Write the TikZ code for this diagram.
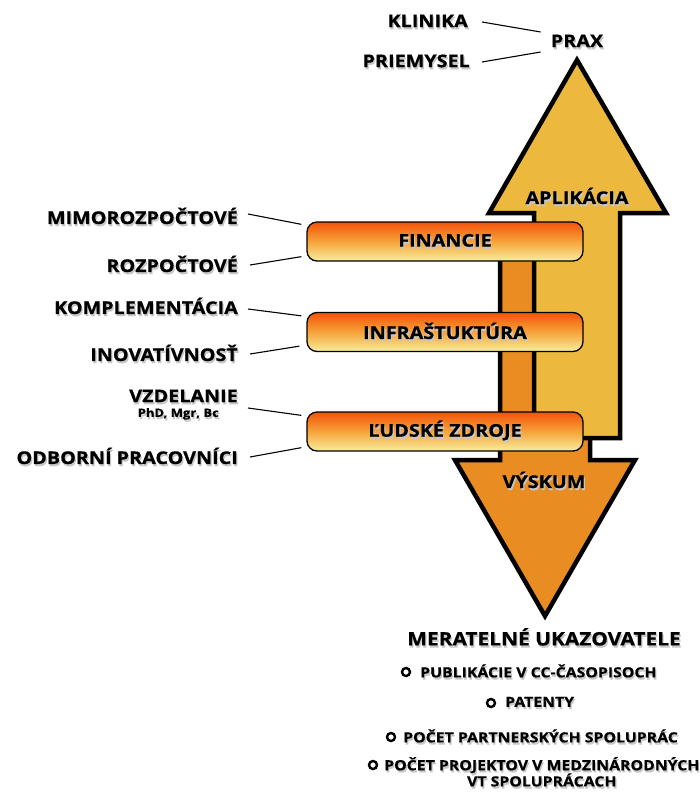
\documentclass[tikz,border=0pt]{standalone}
\usepackage{fontspec}
\setmainfont{Open Sans}[BoldFeatures={FakeStretch=1.13,FakeBold=0.6}]
\usetikzlibrary{calc}
\definecolor{upc}{HTML}{EDB83E}
\definecolor{dnc}{HTML}{E98C22}
\definecolor{btop}{HTML}{F2540A}
\definecolor{bmid}{HTML}{F7A33A}
\definecolor{bbot}{HTML}{F7EE9E}
\newcommand\shd[1]{\leavevmode\rlap{\raisebox{-2.2pt}{\kern1.2pt\textcolor{black!22}{#1}}}#1}
\begin{document}
\begin{tikzpicture}[x=1pt,y=-1pt,
  lbl/.style={font=\bfseries\fontsize{17.5}{20}\selectfont, inner sep=0pt},
  boxn/.style={draw=black, line width=1.3pt, rounded corners=10pt, top color=btop, bottom color=bbot, middle color=bmid, minimum width=276pt, minimum height=39pt, font=\bfseries\fontsize{17.5}{20}\selectfont, inner sep=0pt},
  arr/.style={draw=black, line width=4.5pt, line join=miter},
  conn/.style={line width=1.1pt},
  item/.style={font=\bfseries\fontsize{14}{17}\selectfont, inner sep=0pt, anchor=west},
  bul/.style={circle, draw=black, fill=white, line width=2.4pt, minimum size=8pt, inner sep=0pt}]
\useasboundingbox (0,0) rectangle (700,792);
% arrows
\draw[arr, fill=dnc] (500,235) -- (500,460) -- (455,460) -- (545,616) -- (635,460) -- (590,460) -- (590,235) -- cycle;
\draw[arr, fill=upc] (534,438) -- (534,213) -- (489,213) -- (577,60) -- (666,213) -- (620,213) -- (620,438) -- cycle;
\node[lbl] (apl) at (577,197) {\shd{APLIKÁCIA}};
\node[lbl] (vys) at (544,481) {\shd{VÝSKUM}};
% boxes
\node[boxn] (fin) at (445,241.5) {\shd{FINANCIE}};
\node[boxn] (inf) at (445,332) {\shd{INFRAŠTUKTÚRA}};
\node[boxn] (lud) at (445,431.5) {\shd{ĽUDSKÉ ZDROJE}};
% top
\node[lbl] (prax) at (577,42) {\shd{PRAX}};
\node[lbl, anchor=east] (kli) at (468,22) {\shd{KLINIKA}};
\node[lbl, anchor=east] (pri) at (470,62) {\shd{PRIEMYSEL}};
\draw[conn] ($(kli.east)+(14,0)$) -- ($(prax.west)+(-10,-10)$);
\draw[conn] ($(pri.east)+(12,0)$) -- ($(prax.west)+(-10,10)$);
% left labels
\node[lbl, anchor=east] (mimo) at (238,217) {\shd{MIMOROZPOČTOVÉ}};
\node[lbl, anchor=east] (roz) at (238,265) {\shd{ROZPOČTOVÉ}};
\node[lbl, anchor=east] (kom) at (238,307) {\shd{KOMPLEMENTÁCIA}};
\node[lbl, anchor=east] (ino) at (238,354) {\shd{INOVATÍVNOSŤ}};
\node[lbl, anchor=east] (vzd) at (238,397) {\shd{VZDELANIE}};
\node[font=\bfseries\fontsize{11.5}{13}\selectfont, inner sep=0pt, anchor=east] (phd) at (219,415) {\shd{PhD, Mgr, Bc}};
\node[lbl, anchor=east] (odb) at (238,457) {\shd{ODBORNÍ PRACOVNÍCI}};
\draw[conn] ($(mimo.east)+(10,-3)$) -- ($(fin.north west)+(-5,3)$);
\draw[conn] ($(roz.east)+(12,0)$) -- ($(fin.south west)+(-5,-5)$);
\draw[conn] ($(kom.east)+(10,2)$) -- ($(inf.north west)+(-5,4)$);
\draw[conn] ($(ino.east)+(12,0)$) -- ($(inf.south west)+(-7,-6)$);
\draw[conn] ($(vzd.east)+(10,11)$) -- ($(lud.north west)+(-5,4)$);
\draw[conn] ($(odb.east)+(12,0)$) -- ($(lud.south west)+(-5,-4)$);
% bottom
\node[font=\bfseries\fontsize{18.5}{22}\selectfont, inner sep=0pt] (mer) at (544,638) {\shd{MERATELNÉ UKAZOVATELE}};
\node[item] (t1) at (420,672) {\shd{PUBLIKÁCIE V CC-ČASOPISOCH}};
\node[item] (t2) at (505,703) {\shd{PATENTY}};
\node[item] (t3) at (403,737) {\shd{POČET PARTNERSKÝCH SPOLUPRÁC}};
\node[item, align=center, anchor=north west] (t4) at (384,757) {\shd{POČET PROJEKTOV V MEDZINÁRODNÝCH}\\[-3pt]\shd{VT SPOLUPRÁCACH}};
\node[bul] (b1) at ($(t1.west)+(-14,0)$) {};
\node[bul] (b2) at ($(t2.west)+(-14,0)$) {};
\node[bul] (b3) at ($(t3.west)+(-12,0)$) {};
\node[bul] (b4) at ($(t4.north west)+(-11,8)$) {};
\end{tikzpicture}
\end{document}
